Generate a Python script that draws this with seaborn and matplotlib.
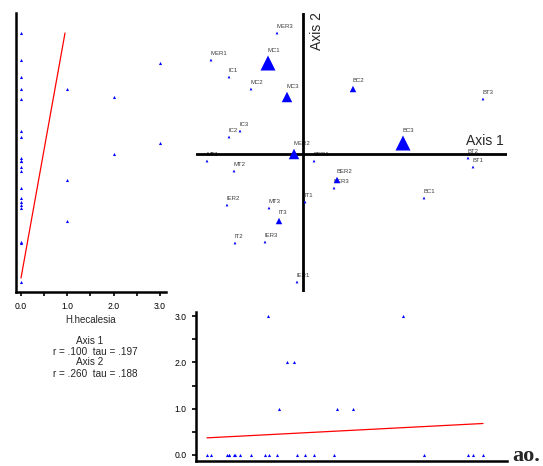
import numpy as np
import pandas as pd
import matplotlib
matplotlib.use('Agg')
import matplotlib.pyplot as plt
import seaborn as sns

# ---------------- data ----------------
sites = ['MC1', 'MC2', 'MC3', 'MT1', 'MT2', 'MT3', 'MER1', 'MER2', 'MER3',
         'IC1', 'IC2', 'IC3', 'IT1', 'IT2', 'IT3', 'IER1', 'IER2', 'IER3',
         'BC1', 'BC2', 'BC3', 'BT1', 'BT2', 'BT3', 'BER1', 'BER2', 'BER3']
axis1 = [-0.35, -0.52, -0.16, -0.96, -0.69, -0.34, -0.92, -0.09, -0.26,
         -0.74, -0.74, -0.63, 0.02, -0.68, -0.24, -0.06, -0.76, -0.38,
         1.21, 0.50, 1.00, 1.70, 1.65, 1.80, 0.11, 0.34, 0.31]
axis2 = [0.91, 0.65, 0.57, -0.07, -0.17, -0.54, 0.94, 0.00, 1.21,
         0.77, 0.17, 0.23, -0.48, -0.89, -0.67, -1.28, -0.51, -0.88,
         -0.44, 0.65, 0.11, -0.13, -0.04, 0.55, -0.07, -0.26, -0.34]
abundance = [3, 0, 2, 0, 0, 0, 0, 2, 0,
             0, 0, 0, 0, 0, 1, 0, 0, 0,
             0, 1, 3, 0, 0, 0, 0, 1, 0]

species = 'H.hecalesia'
left_fit_abund = [0.0, 0.95]
left_fit_axis2 = [-1.24, 1.21]
bottom_fit_axis1 = [-0.96, 1.80]
bottom_fit_abund = [0.37, 0.68]
stats_lines = ['Axis 1', 'r = .100  tau = .197', 'Axis 2', 'r = .260  tau = .188']
abund_ticks = [0.0, 0.5, 1.0, 1.5, 2.0, 2.5, 3.0]
abund_labels = ['0.0', '', '1.0', '', '2.0', '', '3.0']

df = pd.DataFrame({'site': sites, 'axis1': axis1, 'axis2': axis2,
                   'abund': abundance})

# ---------------- style ----------------
sns.set_style('white')
plt.rcParams['font.family'] = ['Liberation Sans', 'DejaVu Sans']

W, H = 543, 466
fig = plt.figure(figsize=(W / 100, H / 100), dpi=100)


def box(x0, y0, x1, y1):
    return [x0 / W, 1 - y1 / H, (x1 - x0) / W, (y1 - y0) / H]


# pixel scales: main plot 100 px per unit, origin at (303,154)
OX, OY, S = 303.0, 154.0, 100.0
A0X, A0Y, SA = 21.0, 455.0, 46.33   # abundance scales

def xl(p0, p1):
    return ((p0 - OX) / S, (p1 - OX) / S)

def yl(p0, p1):  # p0 top px, p1 bottom px
    return ((OY - p1) / S, (OY - p0) / S)

# ---------------- main ordination ----------------
ax = fig.add_axes(box(196, 12.7, 507, 292))
sizes = {0: 4, 1: 22, 2: 57, 3: 117}
sns.scatterplot(data=df, x='axis1', y='axis2', size='abund', sizes=sizes,
                marker='^', color='#0000ff', linewidth=0, legend=False,
                ax=ax, zorder=4)
for _, r in df.iterrows():
    off = np.sqrt(sizes[r['abund']]) / 2 + 2.0
    ax.annotate(r['site'], (r['axis1'], r['axis2']), xytext=(0, off),
                textcoords='offset points', ha='left', va='bottom',
                fontsize=4.3, color='#3a3a3a', zorder=2)
ax.axhline(0, color='black', lw=2.0, zorder=3)
ax.axvline(0, color='black', lw=2.0, zorder=3)
ax.set_xlim(*xl(196, 507))
ax.set_ylim(*yl(12.7, 292))
ax.axis('off')
ax.text(485 / W, 1 - 141 / H, 'Axis 1', transform=fig.transFigure,
        ha='center', va='center', fontsize=10)
ax.text(317 / W, 1 - 31.5 / H, 'Axis 2', transform=fig.transFigure,
        ha='center', va='center', fontsize=10, rotation=90)

# ---------------- left panel ----------------
axl = fig.add_axes(box(16, 12.7, 165.7, 292))
sns.scatterplot(data=df, x='abund', y='axis2', s=5, marker='^',
                color='#0000ff', linewidth=0, legend=False, ax=axl, zorder=3)
sns.lineplot(x=left_fit_abund, y=left_fit_axis2, color='red', lw=0.9,
             ax=axl, zorder=2)
axl.set_xlim((16 - A0X) / SA, (165.7 - A0X) / SA)
axl.set_ylim(*yl(12.7, 292))
axl.set_xticks(abund_ticks)
axl.set_xticklabels(abund_labels)
axl.set_yticks([])
axl.set_xlabel(species, fontsize=7, labelpad=2.5)
axl.set_ylabel('')
for sp in ['top', 'right']:
    axl.spines[sp].set_visible(False)
for sp in ['left', 'bottom']:
    axl.spines[sp].set_linewidth(1.8)
    axl.spines[sp].set_color('black')
axl.tick_params(axis='x', direction='out', length=3, width=1.2,
                labelsize=6.2, pad=4.5, bottom=True, colors='black')

# stats text
for txt, xp, yp in zip(stats_lines, [90, 95, 90, 95], [341, 352, 362, 374]):
    fig.text(xp / W, 1 - yp / H, txt, ha='center', va='center', fontsize=7.2)

# ---------------- bottom panel ----------------
axb = fig.add_axes(box(195.7, 311.7, 506.7, 461))
sns.scatterplot(data=df, x='axis1', y='abund', s=5, marker='^',
                color='#0000ff', linewidth=0, legend=False, ax=axb, zorder=3)
sns.lineplot(x=bottom_fit_axis1, y=bottom_fit_abund, color='red', lw=0.9,
             ax=axb, zorder=2)
axb.set_xlim(*xl(195.7, 506.7))
axb.set_ylim((A0Y - 461) / SA, (A0Y - 311.7) / SA)
axb.set_yticks(abund_ticks)
axb.set_yticklabels(abund_labels)
axb.set_xticks([])
axb.set_xlabel('')
axb.set_ylabel('')
for sp in ['top', 'right']:
    axb.spines[sp].set_visible(False)
for sp in ['left', 'bottom']:
    axb.spines[sp].set_linewidth(1.8)
    axb.spines[sp].set_color('black')
axb.tick_params(axis='y', direction='out', length=3, width=1.2,
                labelsize=6.2, pad=3.5, left=True, colors='black')

fig.text(512 / W, 1 - 461 / H, 'ao.', ha='left', va='baseline',
         fontsize=16, fontweight='bold', family='Liberation Serif')

fig.savefig('out.png', dpi=100)
